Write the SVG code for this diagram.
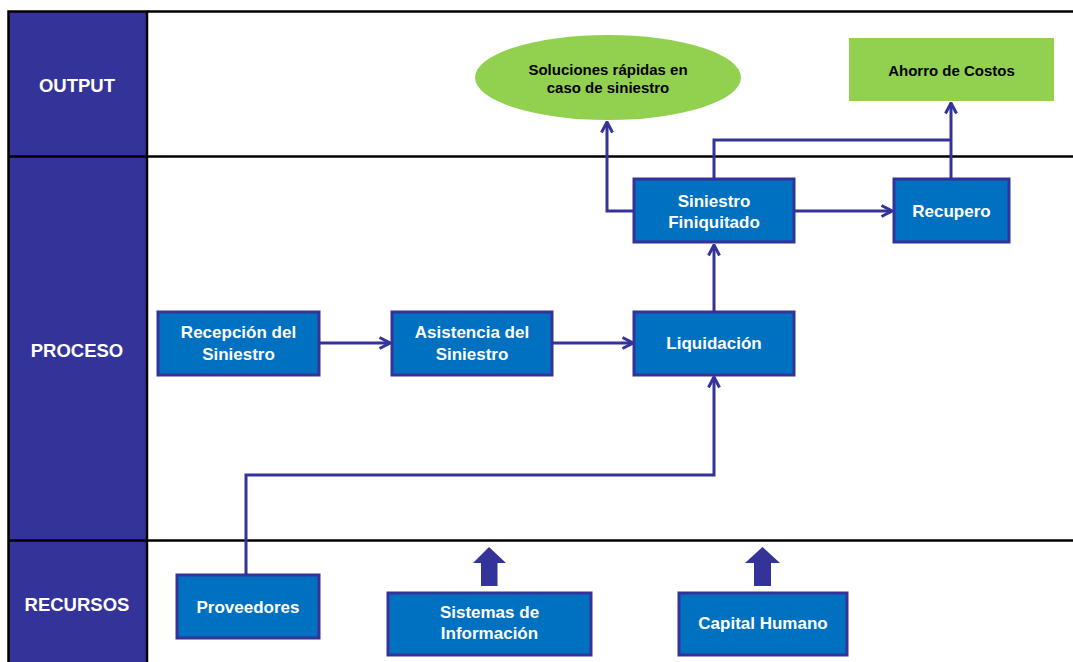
<svg xmlns="http://www.w3.org/2000/svg" width="1073" height="662" viewBox="0 0 1073 662">
<defs>
<style>
.lane{fill:#333399;stroke:#000;stroke-width:2.5}
.grid{stroke:#000;stroke-width:2.5;fill:none}
.lbl{font-family:"Liberation Sans",Arial,sans-serif;font-weight:bold;font-size:18.5px;fill:#fff;text-anchor:middle}
.box{fill:#0070C0;stroke:#333399;stroke-width:3}
.bt{font-family:"Liberation Sans",Arial,sans-serif;font-weight:bold;font-size:17px;fill:#fff;text-anchor:middle}
.out{fill:#92D050}
.ot{font-family:"Liberation Sans",Arial,sans-serif;font-weight:bold;font-size:15px;fill:#000;text-anchor:middle}
.con{stroke:#333399;stroke-width:3;fill:none}
.blk{fill:#333399}
</style>
<marker id="ah" viewBox="0 0 14 14" refX="12.5" refY="7" markerWidth="14" markerHeight="14" markerUnits="userSpaceOnUse" orient="auto">
<path d="M2,1.5 L12.5,7 L2,12.5" fill="none" stroke="#333399" stroke-width="3"/>
</marker>
</defs>
<rect width="1073" height="662" fill="#fff"/>
<g id="lanes">
<rect class="lane" x="8.5" y="11.5" width="138.5" height="652"/>
<line class="grid" x1="147" y1="11.5" x2="1073" y2="11.5"/>
<line class="grid" x1="8" y1="156.5" x2="1073" y2="156.5"/>
<line class="grid" x1="8" y1="540.5" x2="1073" y2="540.5"/>
<text class="lbl" x="77" y="92">OUTPUT</text>
<text class="lbl" x="77" y="357">PROCESO</text>
<text class="lbl" x="77" y="611">RECURSOS</text>
</g>
<g id="connectors">
<line class="con" x1="319" y1="343" x2="390" y2="343" marker-end="url(#ah)"/>
<line class="con" x1="552" y1="343" x2="633" y2="343" marker-end="url(#ah)"/>
<polyline class="con" points="246,574 246,475 714,475 714,377" marker-end="url(#ah)"/>
<line class="con" x1="714" y1="312" x2="714" y2="245" marker-end="url(#ah)"/>
<line class="con" x1="794" y1="211" x2="892" y2="211" marker-end="url(#ah)"/>
<polyline class="con" points="633,211 607,211 607,122" marker-end="url(#ah)"/>
<polyline class="con" points="714,179 714,140 951,140"/>
<line class="con" x1="951" y1="179" x2="951" y2="103" marker-end="url(#ah)"/>
<polygon class="blk" points="489,547 506,563 497.5,563 497.5,586 481,586 481,563 473,563"/>
<polygon class="blk" points="762.5,547 780,563 771,563 771,586 754,586 754,563 745,563"/>
</g>
<g id="soluciones">
<ellipse class="out" cx="608" cy="77.5" rx="133" ry="42.5"/>
<text class="ot" x="608" y="75">Soluciones rápidas en</text>
<text class="ot" x="608" y="93">caso de siniestro</text>
</g>
<g id="ahorro">
<rect class="out" x="849" y="38" width="205" height="63"/>
<text class="ot" x="951.5" y="76">Ahorro de Costos</text>
</g>
<g id="recepcion">
<rect class="box" x="158" y="312" width="161" height="63"/>
<text class="bt" x="238.5" y="338">Recepción del</text>
<text class="bt" x="238.5" y="360">Siniestro</text>
</g>
<g id="asistencia">
<rect class="box" x="392" y="312" width="160" height="63"/>
<text class="bt" x="472" y="338">Asistencia del</text>
<text class="bt" x="472" y="360">Siniestro</text>
</g>
<g id="liquidacion">
<rect class="box" x="634" y="312" width="160" height="63"/>
<text class="bt" x="714" y="349">Liquidación</text>
</g>
<g id="finiquitado">
<rect class="box" x="634" y="179" width="160" height="63"/>
<text class="bt" x="714" y="207">Siniestro</text>
<text class="bt" x="714" y="228">Finiquitado</text>
</g>
<g id="recupero">
<rect class="box" x="894" y="179" width="115" height="63"/>
<text class="bt" x="951.5" y="217">Recupero</text>
</g>
<g id="proveedores">
<rect class="box" x="177" y="575" width="142" height="63"/>
<text class="bt" x="248" y="613">Proveedores</text>
</g>
<g id="sistemas">
<rect class="box" x="388" y="593" width="203" height="62"/>
<text class="bt" x="489.5" y="618">Sistemas de</text>
<text class="bt" x="489.5" y="639">Información</text>
</g>
<g id="capital">
<rect class="box" x="679" y="593" width="168" height="62"/>
<text class="bt" x="763" y="629">Capital Humano</text>
</g>
</svg>
